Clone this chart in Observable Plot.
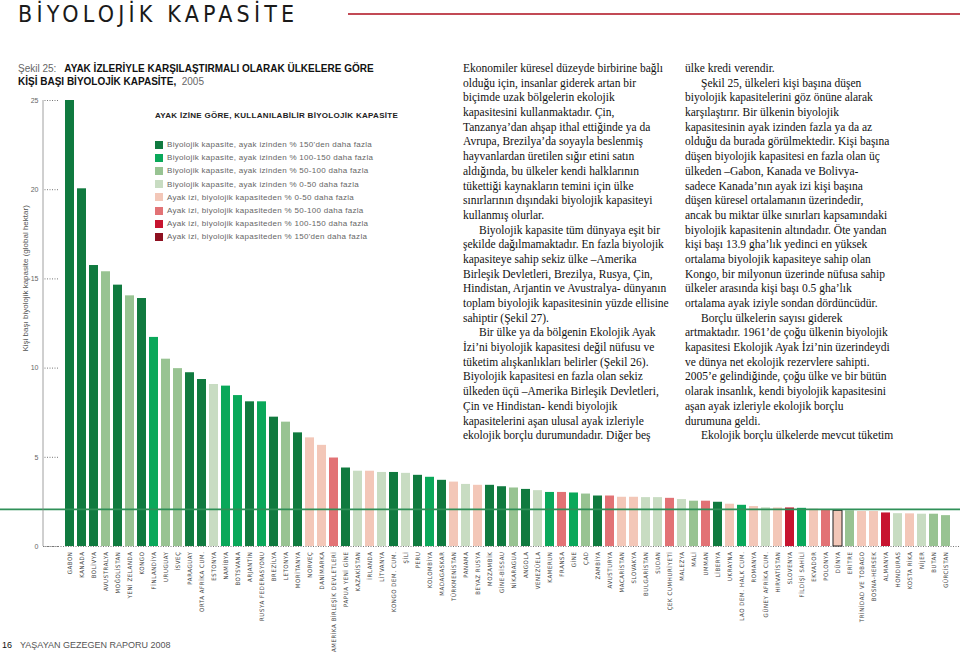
<!DOCTYPE html>
<html><head><meta charset="utf-8">
<script src="https://cdn.jsdelivr.net/npm/d3@7"></script>
<script src="https://cdn.jsdelivr.net/npm/@observablehq/plot@0.6"></script>
<style>
body{margin:0;background:#fff;}
#page{position:relative;width:960px;height:652px;overflow:hidden;font-family:"Liberation Sans",Arial,sans-serif;}
#chart{position:absolute;left:0;top:0;}
.abs{position:absolute;white-space:nowrap;}
#pagetitle{font-size:23px;line-height:26px;letter-spacing:4.2px;color:#1a1a1a;font-family:"Liberation Sans Narrow","DejaVu Sans Condensed","Liberation Sans",Arial,sans-serif;}
#redline{position:absolute;left:348px;top:13px;width:612px;height:2px;background:#c24a55;}
.fig{font-size:10px;line-height:12px;color:#111;font-weight:bold;}
.fig span{font-weight:normal;color:#666;}
#legend{left:155px;top:110px;}
#legend .hd{font-size:8px;font-weight:bold;color:#222;line-height:12px;margin-bottom:16px;letter-spacing:0.3px;}
#legend .it{font-size:8px;letter-spacing:0.3px;color:#666;line-height:13.2px;height:13.2px;display:flex;align-items:center;}
#legend .sw{width:8px;height:8px;margin-right:4px;display:inline-block;}
.col{font-family:"Liberation Serif","Times New Roman",serif;font-size:11.5px;line-height:14.68px;color:#111;}
.col .ind{padding-left:16px;}
#footer{left:2px;top:638px;font-size:9px;line-height:14px;color:#555;}
#footer b{color:#111;font-weight:normal;margin-right:8px;}
</style></head><body>
<div id="page">
  <div id="chart"></div>
  <div id="pagetitle" class="abs" style="left:18px;top:1px;">BİYOLOJİK KAPASİTE</div>
  <div id="redline"></div>
  <div class="abs fig" style="left:18px;top:63px;"><span>Şekil 25:&nbsp;&nbsp;</span> AYAK İZLERİYLE KARŞILAŞTIRMALI OLARAK ÜLKELERE GÖRE</div>
  <div class="abs fig" style="left:18px;top:76px;">KİŞİ BAŞI BİYOLOJİK KAPASİTE, <span>&nbsp;2005</span></div>
  <div id="legend" class="abs"></div>
  <div class="abs col" style="left:463px;top:61px;" id="col1"></div>
  <div class="abs col" style="left:685px;top:61px;" id="col2"></div>
  <div id="footer" class="abs"><b>16</b>YAŞAYAN GEZEGEN RAPORU 2008</div>
</div>
<script>
// ---- data ----
const countries = ["GABON","KANADA","BOLİVYA","AVUSTRALYA","MOĞOLİSTAN","YENİ ZELANDA","KONGO","FİNLANDİYA","URUGUAY","İSVEÇ","PARAGUAY","ORTA AFRİKA CUM.","ESTONYA","NAMİBYA","BOTSVANA","ARJANTİN","RUSYA FEDERASYONU","BREZİLYA","LETONYA","MORİTANYA","NORVEÇ","DANİMARKA","AMERİKA BİRLEŞİK DEVLETLERİ","PAPUA YENİ GİNE","KAZAKİSTAN","İRLANDA","LİTVANYA","KONGO DEM. CUM.","ŞİLİ","PERU","KOLOMBİYA","MADAGASKAR","TÜRKMENİSTAN","PANAMA","BEYAZ RUSYA","MOZAMBİK","GİNE-BİSSAU","NİKARAGUA","ANGOLA","VENEZÜELA","KAMERUN","FRANSA","GİNE","ÇAD","ZAMBİYA","AVUSTURYA","MACARİSTAN","SLOVAKYA","BULGARİSTAN","SUDAN","ÇEK CUMHURİYETİ","MALEZYA","MALİ","UMMAN","LİBERYA","UKRAYNA","LAO DEM. HALK CUM.","ROMANYA","GÜNEY AFRİKA CUM.","HIRVATİSTAN","SLOVENYA","FİLDİŞİ SAHİLİ","EKVADOR","POLONYA","DÜNYA","ERİTRE","TRİNİDAD VE TOBAGO","BOSNA-HERSEK","ALMANYA","HONDURAS","KOSTA RİKA","NİJER","BUTAN","GÜRCİSTAN"];
const values = [25.0,20.05,15.75,15.4,14.65,14.05,13.9,11.72,10.5,9.97,9.74,9.36,9.08,8.99,8.46,8.11,8.11,7.25,6.97,6.37,6.09,5.67,4.96,4.4,4.22,4.22,4.15,4.15,4.1,3.99,3.88,3.71,3.61,3.48,3.43,3.43,3.35,3.28,3.2,3.13,3.03,3.03,3.0,2.94,2.83,2.83,2.76,2.76,2.74,2.74,2.7,2.63,2.54,2.54,2.48,2.37,2.31,2.24,2.17,2.16,2.16,2.14,2.09,2.07,2.0,2.0,1.96,1.96,1.88,1.84,1.83,1.81,1.81,1.73];
// class index: 0 dark green, 1 green, 2 mid green, 3 light green, 4 light pink, 5 mid red, 6 red, 7 dark red
const classes = [0,0,0,2,0,2,0,1,2,2,0,0,3,1,1,0,1,0,2,0,4,4,5,0,3,4,3,0,3,0,1,0,4,3,4,0,0,2,0,3,1,5,1,2,0,5,4,4,3,3,5,3,2,5,0,4,1,4,3,4,6,1,4,5,4,2,4,4,6,3,4,3,2,2];
const legendLabels = [
  "Biyolojik kapasite, ayak izinden % 150'den daha fazla",
  "Biyolojik kapasite, ayak izinden % 100-150 daha fazla",
  "Biyolojik kapasite, ayak izinden % 50-100 daha fazla",
  "Biyolojik kapasite, ayak izinden % 0-50 daha fazla",
  "Ayak izi, biyolojik kapasiteden % 0-50 daha fazla",
  "Ayak izi, biyolojik kapasiteden % 50-100 daha fazla",
  "Ayak izi, biyolojik kapasiteden % 100-150 daha fazla",
  "Ayak izi, biyolojik kapasiteden % 150'den daha fazla"
];
const legendTitle = "AYAK İZİNE GÖRE, KULLANILABİLİR BİYOLOJİK KAPASİTE";
const palette = ["#107a3f","#0aa85a","#98c392","#c8dcc2","#f3c7b8","#e27275","#c7142f","#8e1020"];
const yTicks = [0,5,10,15,20,25];
const worldAverage = 2.08;
const highlighted = "DÜNYA";
const yLabel = "Kişi başı biyolojik kapasite (global hektar)";

const col1Lines = [
 ["Ekonomiler küresel düzeyde birbirine bağlı",0],["olduğu için, insanlar giderek artan bir",0],["biçimde uzak bölgelerin ekolojik",0],["kapasitesini kullanmaktadır. Çin,",0],["Tanzanya’dan ahşap ithal ettiğinde ya da",0],["Avrupa, Brezilya’da soyayla beslenmiş",0],["hayvanlardan üretilen sığır etini satın",0],["aldığında, bu ülkeler kendi halklarının",0],["tükettiği kaynakların temini için ülke",0],["sınırlarının dışındaki biyolojik kapasiteyi",0],["kullanmış olurlar.",0],
 ["Biyolojik kapasite tüm dünyaya eşit bir",1],["şekilde dağılmamaktadır. En fazla biyolojik",0],["kapasiteye sahip sekiz ülke –Amerika",0],["Birleşik Devletleri, Brezilya, Rusya, Çin,",0],["Hindistan, Arjantin ve Avustralya- dünyanın",0],["toplam biyolojik kapasitesinin yüzde ellisine",0],["sahiptir (Şekil 27).",0],
 ["Bir ülke ya da bölgenin Ekolojik Ayak",1],["İzi’ni biyolojik kapasitesi değil nüfusu ve",0],["tüketim alışkanlıkları belirler (Şekil 26).",0],["Biyolojik kapasitesi en fazla olan sekiz",0],["ülkeden üçü –Amerika Birleşik Devletleri,",0],["Çin ve Hindistan- kendi biyolojik",0],["kapasitelerini aşan ulusal ayak izleriyle",0],["ekolojik borçlu durumundadır. Diğer beş",0]
];
const col2Lines = [
 ["ülke kredi verendir.",0],
 ["Şekil 25, ülkeleri kişi başına düşen",1],["biyolojik kapasitelerini göz önüne alarak",0],["karşılaştırır. Bir ülkenin biyolojik",0],["kapasitesinin ayak izinden fazla ya da az",0],["olduğu da burada görülmektedir. Kişi başına",0],["düşen biyolojik kapasitesi en fazla olan üç",0],["ülkeden –Gabon, Kanada ve Bolivya-",0],["sadece Kanada’nın ayak izi kişi başına",0],["düşen küresel ortalamanın üzerindedir,",0],["ancak bu miktar ülke sınırları kapsamındaki",0],["biyolojik kapasitenin altındadır. Öte yandan",0],["kişi başı 13.9 gha’lık yedinci en yüksek",0],["ortalama biyolojik kapasiteye sahip olan",0],["Kongo, bir milyonun üzerinde nüfusa sahip",0],["ülkeler arasında kişi başı 0.5 gha’lık",0],["ortalama ayak iziyle sondan dördüncüdür.",0],
 ["Borçlu ülkelerin sayısı giderek",1],["artmaktadır. 1961’de çoğu ülkenin biyolojik",0],["kapasitesi Ekolojik Ayak İzi’nin üzerindeydi",0],["ve dünya net ekolojik rezervlere sahipti.",0],["2005’e gelindiğinde, çoğu ülke ve bir bütün",0],["olarak insanlık, kendi biyolojik kapasitesini",0],["aşan ayak izleriyle ekolojik borçlu",0],["durumuna geldi.",0],
 ["Ekolojik borçlu ülkelerde mevcut tüketim",1]
];

// ---- text columns & legend ----
function fillCol(id, lines){
  const el = document.getElementById(id);
  lines.forEach(([t,ind])=>{const d=document.createElement("div"); d.textContent=t; if(ind) d.className="ind"; el.appendChild(d);});
}
fillCol("col1", col1Lines); fillCol("col2", col2Lines);
const lg = document.getElementById("legend");
const hd = document.createElement("div"); hd.className="hd"; hd.textContent=legendTitle; lg.appendChild(hd);
legendLabels.forEach((t,i)=>{
  const it=document.createElement("div"); it.className="it";
  const sw=document.createElement("span"); sw.className="sw"; sw.style.background=palette[i];
  it.appendChild(sw); it.appendChild(document.createTextNode(t)); lg.appendChild(it);
});

// ---- chart ----
const data = countries.map((c,i)=>({country:c, value:values[i], cls:legendLabels[classes[i]]}));
const chart = Plot.plot({
  width:960, height:652,
  marginLeft:58, marginRight:4, marginTop:100, marginBottom:106,
  style:{background:"transparent", fontFamily:"Liberation Sans, Arial, sans-serif"},
  x:{domain:countries, padding:0.25, axis:null},
  y:{domain:[0,25], axis:null},
  color:{domain:legendLabels, range:palette},
  marks:[
    Plot.ruleY([0], {stroke:"#777", strokeDasharray:"1,1.5", insetLeft:-15, insetRight:-4}),
    Plot.barY(data, {x:"country", y:"value", fill:"cls"}),
    Plot.barY(data.filter(d=>d.country===highlighted), {x:"country", y:"value", fill:"none", stroke:"#222", strokeWidth:1}),
    Plot.ruleY([worldAverage], {stroke:"#2f9058", strokeWidth:1.6, insetLeft:-58, insetRight:-4}),
    Plot.axisX({tickRotate:-90, tickSize:0, tickPadding:5, fontSize:6, fill:"#444", label:null,
      fontFamily:"Liberation Sans Narrow, DejaVu Sans Condensed, Liberation Sans, Arial, sans-serif"}),
    Plot.axisY({ticks:yTicks, tickSize:15, tickPadding:5, tickFormat:d=>String(d), fontSize:7, fill:"#666", stroke:"#777", strokeDasharray:"1,1.5", label:null}),
    Plot.text([yLabel], {text:d=>d, frameAnchor:"left", rotate:-90, dx:-33, dy:28, fontSize:8, fill:"#555"})
  ]
});
document.getElementById("chart").appendChild(chart);
d3.select(chart).selectAll('g[aria-label="x-axis tick label"] text').attr("letter-spacing", "0.6");
const ys = chart.scale("y");
d3.select(chart).append("line")
  .attr("x1",43).attr("x2",43)
  .attr("y1",ys.apply(0)).attr("y2",ys.apply(25))
  .attr("stroke","#888").attr("stroke-width",0.8);
</script>
</body></html>
